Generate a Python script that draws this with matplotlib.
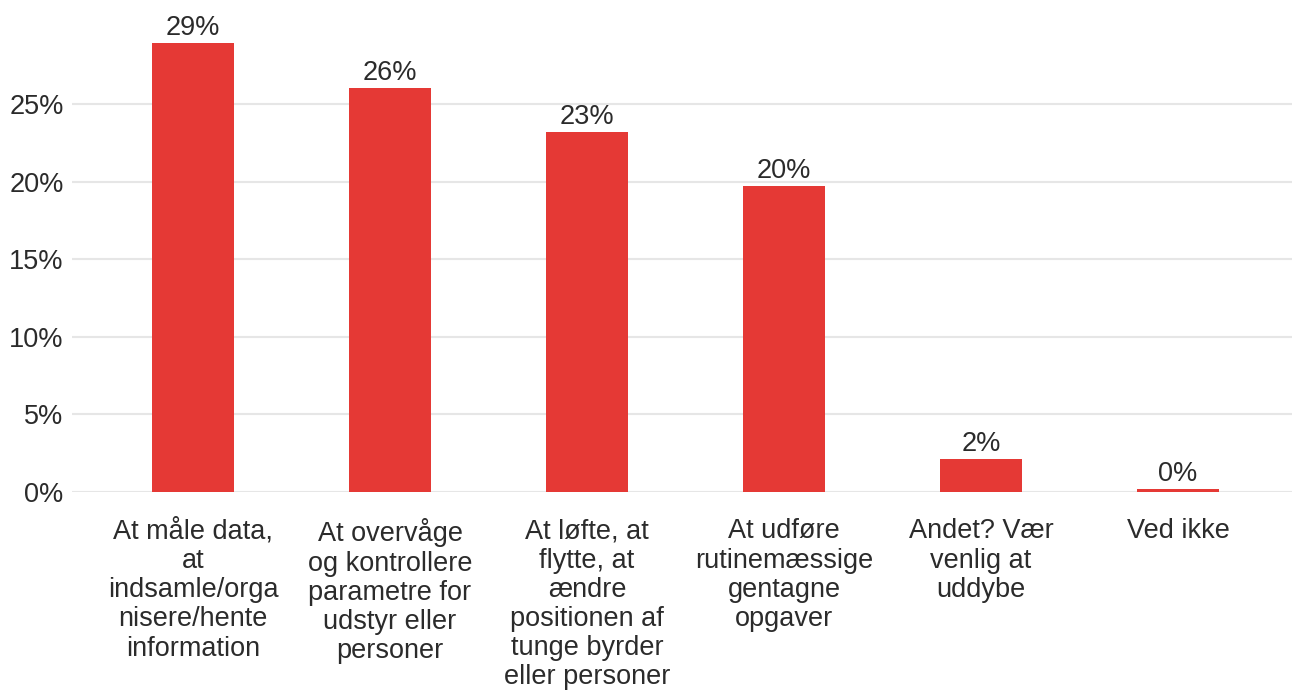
import matplotlib
matplotlib.use("Agg")
import matplotlib.pyplot as plt
from matplotlib.ticker import FuncFormatter

categories = [
    "At måle data,\nat\nindsamle/orga\nnisere/hente\ninformation",
    "At overvåge\nog kontrollere\nparametre for\nudstyr eller\npersoner",
    "At løfte, at\nflytte, at\nændre\npositionen af\ntunge byrder\neller personer",
    "At udføre\nrutinemæssige\ngentagne\nopgaver",
    "Andet? Vær\nvenlig at\nuddybe",
    "Ved ikke",
]
values = [28.9, 26.0, 23.2, 19.7, 2.1, 0.2]
value_labels = ["29%", "26%", "23%", "20%", "2%", "0%"]
yticks = [0, 5, 10, 15, 20, 25]

plt.rcParams['font.family'] = ['Liberation Sans', 'DejaVu Sans']

W, H = 1292, 690
fig = plt.figure(figsize=(W / 100, H / 100), dpi=100)
ax_left, ax_right = 72, 1292
ax_bottom, ax_top = 492, 20
ax = fig.add_axes([ax_left / W, 1 - ax_bottom / H, (ax_right - ax_left) / W, (ax_bottom - ax_top) / H])

x = list(range(len(categories)))
bars = ax.bar(x, values, width=0.416, color="#e53935", zorder=3)

# y scale: 0 at 492, 25 at 104
ppu = (492 - 104) / 25.0
ax.set_ylim(0, (492 - 20) / ppu)
ax.set_xlim((72 - 193) / 197, (1292 - 193) / 197)

ax.set_yticks(yticks)
ax.yaxis.set_major_formatter(FuncFormatter(lambda v, p: f"{int(v)}%"))
ax.grid(axis="y", color="#e6e6e6", linewidth=1.5, zorder=0)
ax.set_xticks(x)
ax.set_xticklabels(categories, fontsize=19.5, color="#2b2b2b", linespacing=1.16, va="top")
ax.tick_params(axis="y", labelsize=19.5, labelcolor="#2b2b2b", length=0, pad=6)
ax.tick_params(axis="x", length=0, pad=19)
for s in ax.spines.values():
    s.set_visible(False)

for xi, v, lab in zip(x, values, value_labels):
    ax.annotate(lab, (xi, v), xytext=(0, 1.5), textcoords="offset points",
                ha="center", va="bottom", fontsize=19.5, color="#2b2b2b")

fig.savefig("out.png", dpi=100)
